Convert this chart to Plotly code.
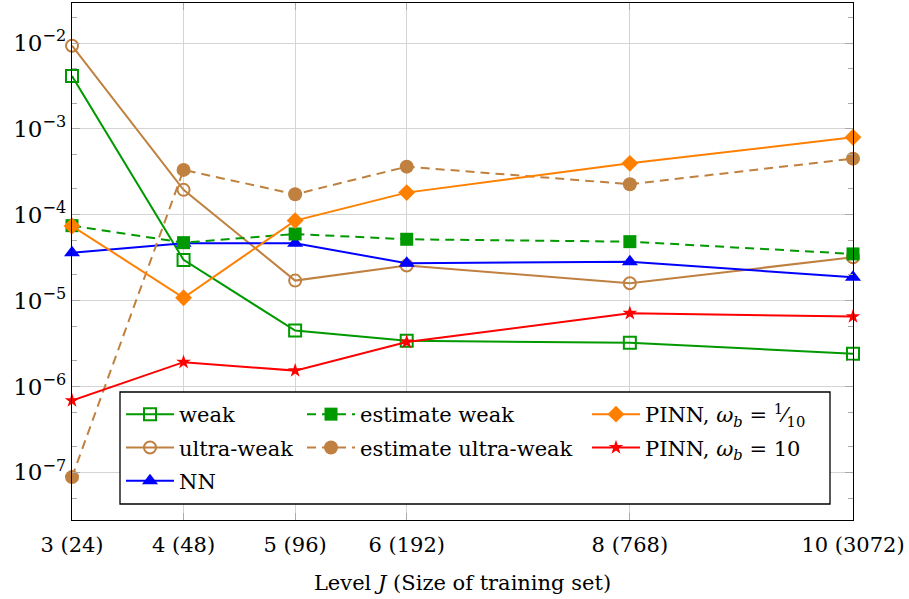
import plotly.graph_objects as go

levels = [3, 4, 5, 6, 8, 10]
xtick_labels = ["3 (24)", "4 (48)", "5 (96)", "6 (192)", "8 (768)", "10 (3072)"]

weak = [4.13e-3, 2.98e-5, 4.48e-6, 3.40e-6, 3.24e-6, 2.40e-6]
ultra_weak = [9.3e-3, 1.95e-4, 1.71e-5, 2.56e-5, 1.59e-5, 3.2e-5]
nn = [3.6e-5, 4.66e-5, 4.66e-5, 2.72e-5, 2.84e-5, 1.87e-5]
est_weak = [7.46e-5, 4.73e-5, 5.97e-5, 5.18e-5, 4.86e-5, 3.5e-5]
est_ultra_weak = [8.8e-8, 3.33e-4, 1.73e-4, 3.63e-4, 2.27e-4, 4.5e-4]
pinn_tenth = [7.4e-5, 1.08e-5, 8.55e-5, 1.81e-4, 3.97e-4, 7.98e-4]
pinn_ten = [6.86e-7, 1.92e-6, 1.53e-6, 3.3e-6, 7.13e-6, 6.52e-6]

ytick_vals = [1e-7, 1e-6, 1e-5, 1e-4, 1e-3, 1e-2]
ytick_text = ["10<sup>−7</sup>", "10<sup>−6</sup>", "10<sup>−5</sup>",
              "10<sup>−4</sup>", "10<sup>−3</sup>", "10<sup>−2</sup>"]

GREEN = "#009900"
BROWN = "#BF8040"
BLUE = "#0000FF"
ORANGE = "#FF8000"
RED = "#FF0000"
FONT = "DejaVu Serif, Liberation Serif, serif"

fig = go.Figure()

def add(name, y, color, symbol, size, dash, legend, open_marker=False):
    marker = dict(symbol=symbol, size=size, color=color)
    if open_marker:
        marker = dict(symbol=symbol + "-open", size=size, color=color,
                      line=dict(color=color, width=2))
    fig.add_trace(go.Scatter(
        x=levels, y=y, name=name, mode="lines+markers",
        line=dict(color=color, width=2, dash=dash),
        marker=marker, cliponaxis=False, legend=legend, legendgroup=name))

add("weak", weak, GREEN, "square", 12, "solid", "legend", True)
add("ultra-weak", ultra_weak, BROWN, "circle", 12, "solid", "legend", True)
add("NN", nn, BLUE, "triangle-up", 14, "solid", "legend")
add("estimate weak", est_weak, GREEN, "square", 13, "9px,6px", "legend2")
add("estimate ultra-weak", est_ultra_weak, BROWN, "circle", 14, "9px,6px", "legend2")
add("PINN, <i>ω<sub>b</sub></i> = <sup>1</sup>⁄<sub>10</sub>", pinn_tenth, ORANGE, "diamond", 13, "solid", "legend3")
add("PINN, <i>ω<sub>b</sub></i> = 10", pinn_ten, RED, "star", 11, "solid", "legend3")

W, H = 909, 599
ml, mr, mt, mb = 72, 56, 3, 79
pw, ph = W - ml - mr, H - mt - mb

def px(x):
    return (x - ml) / pw

def py(y):
    return (H - mb - y) / ph

leg_common = dict(bgcolor="rgba(0,0,0,0)", borderwidth=0,
                  font=dict(family=FONT, size=21, color="black"),
                  xanchor="left", yanchor="top", orientation="v",
                  tracegroupgap=3, itemwidth=48)

fig.update_layout(
    width=W, height=H,
    margin=dict(l=ml, r=mr, t=mt, b=mb),
    paper_bgcolor="white", plot_bgcolor="white",
    font=dict(family=FONT, size=21, color="black"),
    legend=dict(x=px(121), y=py(394), **leg_common),
    legend2=dict(x=px(302), y=py(394), **leg_common),
    legend3=dict(x=px(587), y=py(394), **leg_common),
    xaxis=dict(range=[3, 10], tickvals=levels, ticktext=xtick_labels,
               showgrid=True, gridcolor="#d4d4d4", gridwidth=1,
               showline=True, linecolor="black", linewidth=1.3, mirror="ticks",
               ticks="inside", ticklen=7, tickcolor="#aaaaaa",
               tickfont=dict(family=FONT, size=21), ticklabelstandoff=6,
               zeroline=False, automargin=False,
               title=dict(text="Level <i>J</i> (Size of training set)",
                          font=dict(family=FONT, size=21), standoff=18)),
    yaxis=dict(type="log", range=[-7.555, -1.534],
               tickvals=ytick_vals, ticktext=ytick_text,
               showgrid=True, gridcolor="#d4d4d4", gridwidth=1,
               showline=True, linecolor="black", linewidth=1.3, mirror="ticks",
               ticks="inside", ticklen=8, tickcolor="#aaaaaa",
               minor=dict(ticks="inside", ticklen=5, tickcolor="#aaaaaa",
                          showgrid=False),
               tickfont=dict(family=FONT, size=23),
               zeroline=False, automargin=False),
    shapes=[dict(type="rect", xref="paper", yref="paper",
                 x0=px(120), x1=px(830), y0=py(504), y1=py(392),
                 line=dict(color="black", width=1.3), fillcolor="white",
                 layer="above")],
)

fig.write_html("out.html", config={"displayModeBar": False},
               post_script="document.body.style.margin='0';")
